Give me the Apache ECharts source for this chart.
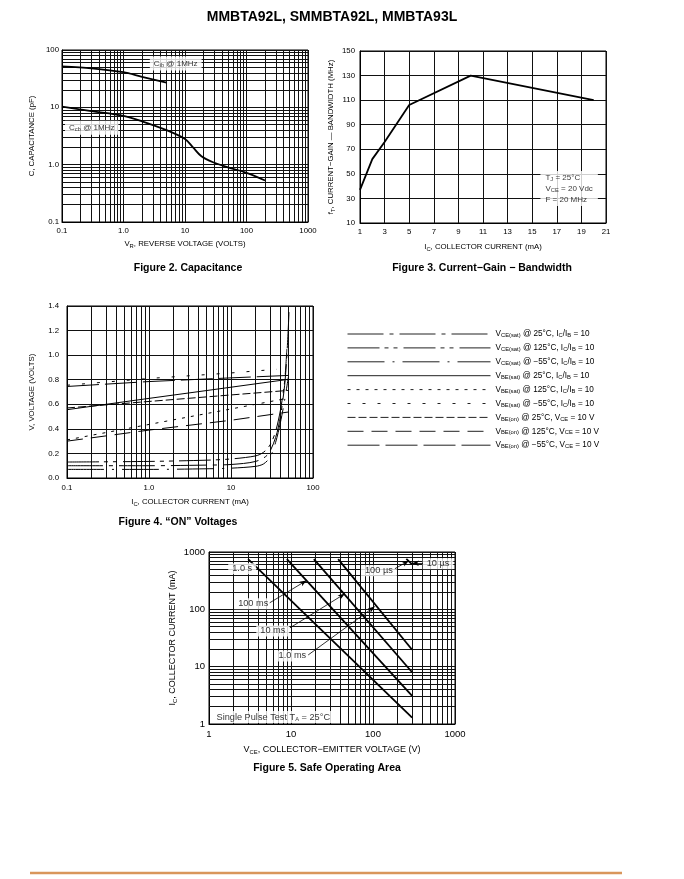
<!DOCTYPE html>
<html><head><meta charset="utf-8">
<script src="https://cdn.jsdelivr.net/npm/echarts@6/dist/echarts.min.js"></script>
<style>html,body{margin:0;padding:0;background:#fff}#c{width:684px;height:879px}</style>
</head><body><div id="c"></div>
<script>
// ---------- Figure 2: Capacitance ----------
const capCibVr = [0.1, 0.3, 1, 2, 5];
const capCib   = [52, 48, 41, 34, 27];
const capCcbVr = [0.1, 0.3, 1, 2, 5, 10, 13.5, 18.5, 28.5, 50, 100, 200];
const capCcb   = [10.3, 8.6, 7.1, 5.7, 4.0, 2.8, 2.0, 1.4, 1.1, 0.9, 0.72, 0.53];
const capXTicks = ['0.1', '1.0', '10', '100', '1000'];
const capYTicks = ['0.1', '1.0', '10', '100'];

// ---------- Figure 3: Current-Gain - Bandwidth ----------
const ftIc  = [1, 2, 3, 5, 10, 20];
const ftMHz = [37, 62, 76, 106, 130, 110];

// ---------- Figure 4: "ON" Voltages ----------
const onNames = [
  'VCE(sat) @ 25°C, IC/IB = 10',
  'VCE(sat) @ 125°C, IC/IB = 10',
  'VCE(sat) @ −55°C, IC/IB = 10',
  'VBE(sat) @ 25°C, IC/IB = 10',
  'VBE(sat) @ 125°C, IC/IB = 10',
  'VBE(sat) @ −55°C, IC/IB = 10',
  'VBE(on) @ 25°C, VCE = 10 V',
  'VBE(on) @ 125°C, VCE = 10 V',
  'VBE(on) @ −55°C, VCE = 10 V'
];
const onRich = [
  'V{s|CE(sat)} @ 25°C, I{s|C}/I{s|B} = 10',
  'V{s|CE(sat)} @ 125°C, I{s|C}/I{s|B} = 10',
  'V{s|CE(sat)} @ −55°C, I{s|C}/I{s|B} = 10',
  'V{s|BE(sat)} @ 25°C, I{s|C}/I{s|B} = 10',
  'V{s|BE(sat)} @ 125°C, I{s|C}/I{s|B} = 10',
  'V{s|BE(sat)} @ −55°C, I{s|C}/I{s|B} = 10',
  'V{s|BE(on)} @ 25°C, V{s|CE} = 10 V',
  'V{s|BE(on)} @ 125°C, V{s|CE} = 10 V',
  'V{s|BE(on)} @ −55°C, V{s|CE} = 10 V'
];
const vceSat25Ic  = [0.1, 1, 5, 10, 20, 28, 35, 40, 45, 48, 51];
const vceSat25    = [0.10, 0.10, 0.105, 0.11, 0.135, 0.19, 0.33, 0.5, 0.75, 1.0, 1.35];
const vceSat125Ic = [0.1, 1, 5, 10, 20, 25, 30, 35, 40, 45, 48];
const vceSat125   = [0.13, 0.135, 0.145, 0.155, 0.18, 0.21, 0.27, 0.38, 0.55, 0.78, 1.05];
const vceSatM55Ic = [0.1, 1, 5, 10, 20, 25, 30, 35, 40, 45, 50];
const vceSatM55   = [0.07, 0.07, 0.075, 0.08, 0.095, 0.115, 0.17, 0.29, 0.45, 0.63, 0.82];
const vbeIc       = [0.1, 1, 10, 50];
const vbeSat25    = [0.556, 0.648, 0.739, 0.803];
const vbeSat125   = [0.31, 0.436, 0.562, 0.65];
const vbeSatM55Ic = [0.1, 1, 10, 36];
const vbeSatM55   = [0.755, 0.81, 0.855, 0.885];
const vbeOn25     = [0.57, 0.623, 0.676, 0.713];
const vbeOn125    = [0.30, 0.39, 0.47, 0.537];
const vbeOnM55    = [0.745, 0.785, 0.815, 0.835];
const onXTicks = ['0.1', '1.0', '10', '100'];

// ---------- Figure 5: Safe Operating Area ----------
const soa1sV = [3, 300],      soa1sI = [750, 1.29];
const soa100msV = [8.9, 300], soa100msI = [750, 3.1];
const soa10msV = [19, 300],   soa10msI = [750, 8.0];
const soa1msV = [37.6, 300],  soa1msI = [750, 19.7];
const soa10usV = [255, 300],  soa10usI = [760, 610];
const soaTicks = ['1', '10', '100', '1000'];

// ---------------------------------------------------
const FONT = 'Liberation Sans, Arial, sans-serif';
const GRIDC = '#111';
const subStyle = { fontSize: 5.8, padding: [4, 0, 0, 0], fontFamily: FONT };
const pts = (xs, ys) => xs.map((x, i) => [x, ys[i]]);
function minors(key, e0, e1) {
  const out = [];
  for (let e = e0; e < e1; e++) for (let k = 2; k <= 9; k++) {
    const o = {}; o[key] = +(k * Math.pow(10, e)).toPrecision(6); out.push(o);
  }
  return out;
}
function gridMark(list) {
  return { silent: true, symbol: ['none', 'none'], animation: false, z: 1,
    label: { show: false }, emphasis: { disabled: true },
    lineStyle: { color: GRIDC, width: 1, type: 'solid' }, data: list };
}
function logLabel(ticks, e0) {
  return v => ticks[Math.round(Math.log10(v)) - e0];
}
const axisBase = (fs) => ({
  axisLine: { show: true, lineStyle: { color: '#000', width: 1 } },
  axisTick: { show: false },
  splitLine: { show: true, lineStyle: { color: GRIDC, width: 1 } },
  axisLabel: { color: '#000', fontSize: fs, fontFamily: FONT },
  nameTextStyle: { color: '#000', fontSize: fs, fontFamily: FONT, rich: { s: subStyle } },
  nameLocation: 'middle'
});
const gridBase = { show: true, borderColor: '#000', borderWidth: 1, backgroundColor: 'transparent', outerBoundsMode: 'none', containLabel: false };
const lineBase = (w) => ({ type: 'line', symbol: 'none', showSymbol: false, silent: true, animation: false, z: 3,
  itemStyle: { color: 'rgba(0,0,0,0)' },
  lineStyle: { color: '#000', width: w } });
const labelSeries = (xi, yi, items, extra) => ({
  type: 'scatter', xAxisIndex: xi, yAxisIndex: yi, symbol: 'circle', symbolSize: 1, silent: true,
  animation: false, z: 10, itemStyle: { color: 'rgba(0,0,0,0)' },
  data: items.map(it => ({ value: it.at, label: { formatter: it.text } })),
  label: Object.assign({ show: true, position: 'inside', color: '#000', backgroundColor: '#fff',
    padding: [2, 4], fontFamily: FONT, rich: { s: subStyle } }, extra)
});

const chart = echarts.init(document.getElementById('c'), null, { renderer: 'canvas' });
chart.setOption({
  animation: false,
  backgroundColor: '#fff',
  textStyle: { fontFamily: FONT },
  grid: [
    Object.assign({ left: 62, top: 50, width: 246, height: 172 }, gridBase),
    Object.assign({ left: 360, top: 51, width: 246, height: 172 }, gridBase),
    Object.assign({ left: 67, top: 306, width: 246, height: 172 }, gridBase),
    Object.assign({ left: 209, top: 552, width: 246, height: 172 }, gridBase)
  ],
  xAxis: [
    Object.assign(axisBase(7.8), { gridIndex: 0, type: 'log', logBase: 10, min: 0.1, max: 1000,
      name: 'V{s|R}, REVERSE VOLTAGE (VOLTS)', nameGap: 17,
      axisLabel: { color: '#000', fontSize: 7.8, fontFamily: FONT, margin: 5, formatter: logLabel(capXTicks, -1) } }),
    Object.assign(axisBase(7.8), { gridIndex: 1, type: 'value', min: 1, max: 21, interval: 2,
      name: 'I{s|C}, COLLECTOR CURRENT (mA)', nameGap: 19,
      axisLabel: { color: '#000', fontSize: 7.8, fontFamily: FONT, margin: 5 } }),
    Object.assign(axisBase(7.8), { gridIndex: 2, type: 'log', logBase: 10, min: 0.1, max: 100,
      name: 'I{s|C}, COLLECTOR CURRENT (mA)', nameGap: 19,
      axisLabel: { color: '#000', fontSize: 7.8, fontFamily: FONT, margin: 6, formatter: logLabel(onXTicks, -1) } }),
    Object.assign(axisBase(9), { gridIndex: 3, type: 'log', logBase: 10, min: 1, max: 1000,
      name: 'V{s|CE}, COLLECTOR−EMITTER VOLTAGE (V)', nameGap: 21,
      axisLabel: { color: '#000', fontSize: 9.5, fontFamily: FONT, margin: 5, formatter: logLabel(soaTicks, 0) } })
  ],
  yAxis: [
    Object.assign(axisBase(7.8), { gridIndex: 0, type: 'log', logBase: 10, min: 0.1, max: 100,
      name: 'C, CAPACITANCE (pF)', nameGap: 26,
      axisLabel: { color: '#000', fontSize: 7.8, fontFamily: FONT, margin: 3, formatter: logLabel(capYTicks, -1) } }),
    Object.assign(axisBase(7.8), { gridIndex: 1, type: 'value', min: 10, max: 150, interval: 20,
      name: 'f{s|T}, CURRENT−GAIN — BANDWIDTH (MHz)', nameGap: 24,
      axisLabel: { color: '#000', fontSize: 7.8, fontFamily: FONT, margin: 5 } }),
    Object.assign(axisBase(7.8), { gridIndex: 2, type: 'value', min: 0, max: 1.4, interval: 0.2,
      name: 'V, VOLTAGE (VOLTS)', nameGap: 31,
      axisLabel: { color: '#000', fontSize: 7.8, fontFamily: FONT, margin: 8, formatter: v => v.toFixed(1) } }),
    Object.assign(axisBase(9), { gridIndex: 3, type: 'log', logBase: 10, min: 1, max: 1000,
      name: 'I{s|C}, COLLECTOR CURRENT (mA)', nameGap: 31,
      axisLabel: { color: '#000', fontSize: 9.5, fontFamily: FONT, margin: 4, formatter: logLabel(soaTicks, 0) } })
  ],
  legend: {
    data: onNames, orient: 'vertical', left: 347, top: 329, itemWidth: 143, itemHeight: 10, itemGap: 3.9,
    selectedMode: false, padding: 0,
    itemStyle: { opacity: 0, color: 'rgba(0,0,0,0)', borderWidth: 0 },
    lineStyle: { width: 1, color: '#222', type: 'inherit' },
    formatter: name => onRich[onNames.indexOf(name)],
    textStyle: { color: '#000', fontSize: 8.2, fontFamily: FONT, lineHeight: 10, rich: { s: Object.assign({}, subStyle, { padding: [3, 0, 0, 0] }) } }
  },
  series: [
    // Figure 2
    Object.assign(lineBase(1.8), { name: 'Cib @ 1MHz', xAxisIndex: 0, yAxisIndex: 0, smooth: 0.3,
      data: pts(capCibVr, capCib),
      markLine: gridMark(minors('xAxis', -1, 3).concat(minors('yAxis', -1, 2))) }),
    Object.assign(lineBase(1.8), { name: 'Ccb @ 1MHz', xAxisIndex: 0, yAxisIndex: 0, smooth: 0.35,
      data: pts(capCcbVr, capCcb) }),
    labelSeries(0, 0, [
      { at: [7.06, 58], text: 'C{s|ib} @ 1MHz' },
      { at: [0.304, 4.42], text: 'C{s|cb} @ 1MHz' }
    ], { fontSize: 8 }),
    // Figure 3
    Object.assign(lineBase(1.8), { name: 'fT', xAxisIndex: 1, yAxisIndex: 1, data: pts(ftIc, ftMHz) }),
    labelSeries(1, 1, [
      { at: [15.63, 38.1], text: 'T{s|J} = 25°C\nV{s|CE} = 20 Vdc\nF = 20 MHz' }
    ], { fontSize: 8, position: 'right', distance: 0, lineHeight: 11, padding: [1, 5, 1, 5] }),
    // Figure 4
    Object.assign(lineBase(1), { name: onNames[0], xAxisIndex: 2, yAxisIndex: 2, smooth: 0.3,
      data: pts(vceSat25Ic, vceSat25), lineStyle: { color: '#000', width: 1, type: [36, 6, 4, 6] },
      markLine: gridMark(minors('xAxis', -1, 2)) }),
    Object.assign(lineBase(1), { name: onNames[1], xAxisIndex: 2, yAxisIndex: 2, smooth: 0.3,
      data: pts(vceSat125Ic, vceSat125), lineStyle: { color: '#000', width: 1, type: [32, 5, 4, 5, 4, 6] } }),
    Object.assign(lineBase(1), { name: onNames[2], xAxisIndex: 2, yAxisIndex: 2, smooth: 0.3,
      data: pts(vceSatM55Ic, vceSatM55), lineStyle: { color: '#000', width: 1, type: [37, 8, 2, 8] } }),
    Object.assign(lineBase(1), { name: onNames[3], xAxisIndex: 2, yAxisIndex: 2,
      data: pts(vbeIc, vbeSat25), lineStyle: { color: '#000', width: 1, type: 'solid' } }),
    Object.assign(lineBase(1), { name: onNames[4], xAxisIndex: 2, yAxisIndex: 2,
      data: pts(vbeIc, vbeSat125), lineStyle: { color: '#000', width: 1, type: [3, 6] } }),
    Object.assign(lineBase(1), { name: onNames[5], xAxisIndex: 2, yAxisIndex: 2,
      data: pts(vbeSatM55Ic, vbeSatM55), lineStyle: { color: '#000', width: 1, type: [3, 12] } }),
    Object.assign(lineBase(1), { name: onNames[6], xAxisIndex: 2, yAxisIndex: 2,
      data: pts(vbeIc, vbeOn25), lineStyle: { color: '#000', width: 1, type: [8, 3] } }),
    Object.assign(lineBase(1), { name: onNames[7], xAxisIndex: 2, yAxisIndex: 2,
      data: pts(vbeIc, vbeOn125), lineStyle: { color: '#000', width: 1, type: [16, 8] } }),
    Object.assign(lineBase(1), { name: onNames[8], xAxisIndex: 2, yAxisIndex: 2,
      data: pts(vbeIc, vbeOnM55), lineStyle: { color: '#000', width: 1, type: [32, 6] } }),
    // Figure 5
    Object.assign(lineBase(1.8), { name: '1.0 s', xAxisIndex: 3, yAxisIndex: 3, data: pts(soa1sV, soa1sI),
      markLine: gridMark(minors('xAxis', 0, 3).concat(minors('yAxis', 0, 3))) }),
    Object.assign(lineBase(1.8), { name: '100 ms', xAxisIndex: 3, yAxisIndex: 3, data: pts(soa100msV, soa100msI) }),
    Object.assign(lineBase(1.8), { name: '10 ms', xAxisIndex: 3, yAxisIndex: 3, data: pts(soa10msV, soa10msI) }),
    Object.assign(lineBase(1.8), { name: '1.0 ms', xAxisIndex: 3, yAxisIndex: 3, data: pts(soa1msV, soa1msI),
      markLine: { silent: true, animation: false, z: 11, symbol: ['none', 'arrow'], symbolSize: [4, 7],
        label: { show: false }, emphasis: { disabled: true },
        lineStyle: { color: '#000', width: 0.8, type: 'solid' },
        data: [
          [{ coord: [5.5, 130] }, { coord: [15.5, 319] }],
          [{ coord: [9.7, 47.5] }, { coord: [45.4, 187] }],
          [{ coord: [16.2, 16] }, { coord: [105, 112] }],
          [{ coord: [185, 511] }, { coord: [274, 705] }],
          [{ coord: [406, 637] }, { coord: [298, 637] }]
        ] } }),
    Object.assign(lineBase(1.8), { name: '10 µs', xAxisIndex: 3, yAxisIndex: 3, data: pts(soa10usV, soa10usI) }),
    labelSeries(3, 3, [
      { at: [2.54, 511], text: '1.0 s' },
      { at: [118, 471], text: '100 µs' },
      { at: [620, 625], text: '10 µs' },
      { at: [3.46, 125], text: '100 ms' },
      { at: [6.0, 42], text: '10 ms' },
      { at: [10.4, 15.4], text: '1.0 ms' },
      { at: [6.08, 1.32], text: 'Single Pulse Test T{s|A} = 25°C' }
    ], { fontSize: 9.2, padding: [1, 4] })
  ],
  graphic: [
    { type: 'text', x: 332, y: 17, style: { text: 'MMBTA92L, SMMBTA92L, MMBTA93L', textAlign: 'center', textVerticalAlign: 'middle', font: 'bold 14px ' + FONT, fill: '#000' } },
    { type: 'text', x: 188, y: 268, style: { text: 'Figure 2. Capacitance', textAlign: 'center', textVerticalAlign: 'middle', font: 'bold 10.5px ' + FONT, fill: '#000' } },
    { type: 'text', x: 482, y: 268, style: { text: 'Figure 3. Current−Gain − Bandwidth', textAlign: 'center', textVerticalAlign: 'middle', font: 'bold 10.5px ' + FONT, fill: '#000' } },
    { type: 'text', x: 178, y: 522, style: { text: 'Figure 4. “ON” Voltages', textAlign: 'center', textVerticalAlign: 'middle', font: 'bold 10.5px ' + FONT, fill: '#000' } },
    { type: 'text', x: 327, y: 768, style: { text: 'Figure 5. Safe Operating Area', textAlign: 'center', textVerticalAlign: 'middle', font: 'bold 10.5px ' + FONT, fill: '#000' } },
    { type: 'line', shape: { x1: 30, y1: 873, x2: 622, y2: 873 }, style: { stroke: '#d9965b', lineWidth: 2.5 } }
  ]
});
</script></body></html>
